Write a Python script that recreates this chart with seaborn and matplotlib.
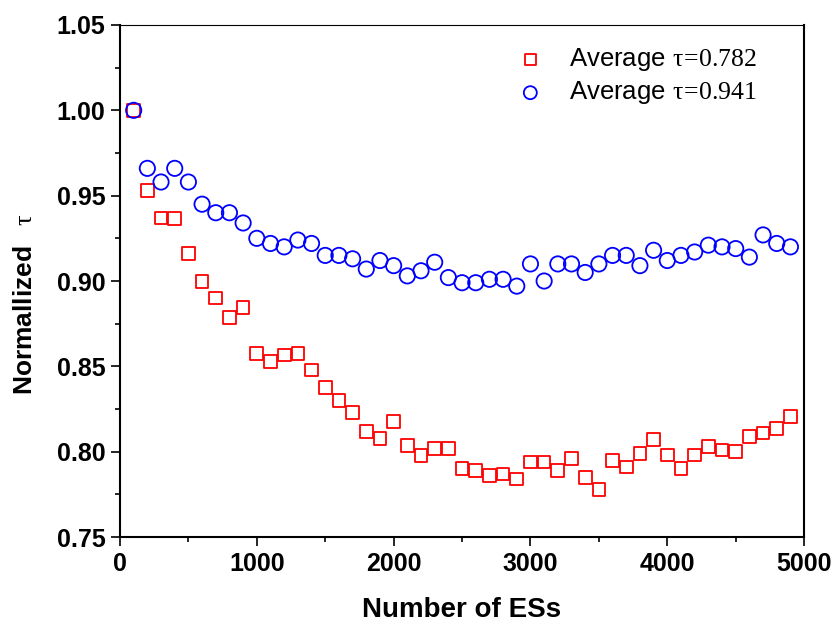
import numpy as np
import pandas as pd
import matplotlib
matplotlib.use("Agg")
import matplotlib.pyplot as plt
from matplotlib.ticker import MultipleLocator
import seaborn as sns

# Number of ESs (x) and normalized tau for the two averaging cases
num_es = list(range(100, 5000, 100))

tau_low = [
    1.000, 0.953, 0.937, 0.9365, 0.916, 0.8996, 0.890, 0.8785, 0.8845, 0.8576,
    0.8527, 0.8566, 0.8576, 0.8478, 0.8375, 0.830, 0.8228, 0.8117, 0.8077, 0.8177,
    0.8038, 0.7978, 0.8019, 0.8019, 0.790, 0.789, 0.786, 0.787, 0.784, 0.794,
    0.794, 0.789, 0.796, 0.785, 0.778, 0.795, 0.791, 0.799, 0.807, 0.798,
    0.790, 0.798, 0.803, 0.801, 0.800, 0.809, 0.811, 0.8136, 0.8206,
]

tau_high = [
    1.000, 0.966, 0.958, 0.966, 0.958, 0.945, 0.940, 0.940, 0.934, 0.925,
    0.922, 0.920, 0.924, 0.922, 0.915, 0.915, 0.913, 0.907, 0.912, 0.909,
    0.903, 0.906, 0.911, 0.902, 0.899, 0.899, 0.901, 0.901, 0.897, 0.910,
    0.900, 0.910, 0.910, 0.905, 0.910, 0.915, 0.915, 0.909, 0.918, 0.912,
    0.915, 0.917, 0.921, 0.920, 0.919, 0.914, 0.927, 0.922, 0.920,
]

label_low = r"Average $\mathrm{\tau\!=\!0.782}$"
label_high = r"Average $\mathrm{\tau\!=\!0.941}$"

x_ticks = [0, 1000, 2000, 3000, 4000, 5000]
y_ticks = [0.75, 0.80, 0.85, 0.90, 0.95, 1.00, 1.05]

sns.set_style("ticks")
plt.rcParams["font.family"] = ["Liberation Sans", "DejaVu Sans"]
plt.rcParams["mathtext.fontset"] = "custom"
plt.rcParams["mathtext.rm"] = "Liberation Serif"
plt.rcParams["mathtext.it"] = "Liberation Serif:italic"
plt.rcParams["mathtext.bf"] = "Liberation Serif:bold"
for key in ["text.color", "axes.labelcolor", "xtick.color", "ytick.color",
            "axes.edgecolor"]:
    plt.rcParams[key] = "black"

df = pd.DataFrame({"es": num_es, "low": tau_low, "high": tau_high})

fig = plt.figure(figsize=(8.35, 6.23), dpi=100)
ax = fig.add_axes([0.1437, 0.138, 0.8193, 0.8219])

sns.scatterplot(data=df, x="es", y="low", marker="s", s=83,
                facecolors="none", edgecolor="#ff0000", linewidth=1.3,
                label=label_low, ax=ax, zorder=3)
sns.scatterplot(data=df, x="es", y="high", marker="o", s=121,
                facecolors="none", edgecolor="#0000ff", linewidth=1.3,
                label=label_high, ax=ax, zorder=4)

ax.set_xlim(0, 5000)
ax.set_ylim(0.75, 1.05)
ax.set_xticks(x_ticks)
ax.set_yticks(y_ticks)
ax.set_xticklabels([str(t) for t in x_ticks])
ax.set_yticklabels([f"{t:.2f}" for t in y_ticks])
ax.xaxis.set_minor_locator(MultipleLocator(500))
ax.yaxis.set_minor_locator(MultipleLocator(0.025))

ax.tick_params(axis="both", which="major", direction="out", length=6.5,
               width=1.2, labelsize=18, pad=4, color="black",
               labelcolor="black")
ax.tick_params(axis="both", which="minor", direction="out", length=3.5,
               width=1.2, color="black")
ax.tick_params(top=False, right=False, which="both")
for lab in ax.get_xticklabels() + ax.get_yticklabels():
    lab.set_fontweight("bold")

for side in ["left", "bottom", "right"]:
    ax.spines[side].set_linewidth(1.5)
    ax.spines[side].set_color("black")
ax.spines["top"].set_linewidth(0.8)
ax.spines["top"].set_color("black")

ax.set_xlabel("Number of ESs", fontsize=20, fontweight="bold", labelpad=15.5)
ax.set_ylabel(r"Normallized  $\;\mathrm{\tau}$", fontsize=19,
              fontweight="bold")
ax.yaxis.set_label_coords(-0.121, 0.455)

leg = ax.legend(loc="upper left", bbox_to_anchor=(0.566, 0.979), frameon=False,
                fontsize=18.5, markerscale=0.85, handletextpad=1.0,
                handlelength=1.0, labelspacing=0.25, borderaxespad=0.0)

fig.savefig("out.png", dpi=100)
